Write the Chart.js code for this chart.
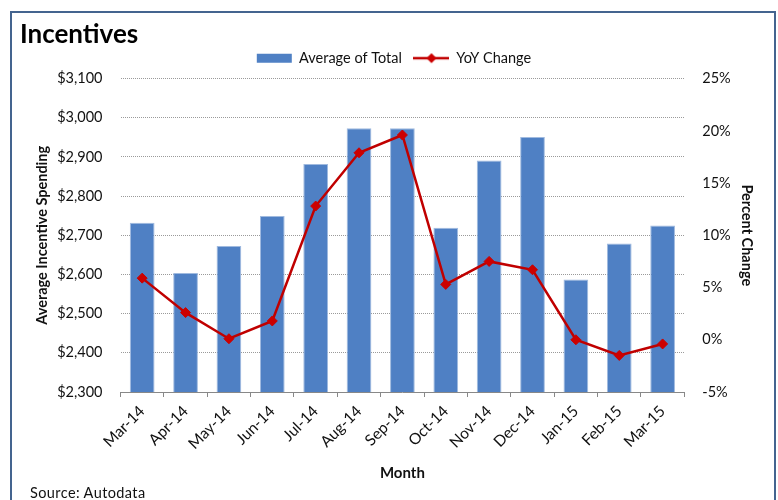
<!DOCTYPE html>
<html><head><meta charset="utf-8">
<script src="https://cdn.jsdelivr.net/npm/chart.js@4"></script>
<style>
html,body{margin:0;padding:0;background:#fff;}
#wrap{position:relative;width:778px;height:500px;overflow:hidden;background:#fff;}
#frame{position:absolute;left:10px;top:11px;width:766px;height:520px;border:2px solid #44648F;box-sizing:border-box;}
#c{position:absolute;left:0;top:0;}
#src{position:absolute;left:30px;top:484px;font:14.5px Lato;letter-spacing:.4px;color:#111;}
</style></head><body>
<div id="wrap"><div id="frame"></div><canvas id="c" width="778" height="500"></canvas><div id="src">Source: Autodata</div></div>
<script>
const months = ['Mar-14','Apr-14','May-14','Jun-14','Jul-14','Aug-14','Sep-14','Oct-14','Nov-14','Dec-14','Jan-15','Feb-15','Mar-15'];
const avgTotal = [2732, 2604, 2673, 2749, 2882, 2973, 2973, 2719, 2891, 2951, 2587, 2679, 2725];
const yoyChange = [5.9, 2.6, 0.1, 1.8, 12.8, 17.9, 19.6, 5.3, 7.5, 6.7, 0.0, -1.5, -0.4];
const spendTicks = [2300, 3100, 100];   // min, max, step
const pctTicks = [-5, 25, 5];           // min, max, step

const FONT = 'Lato';
const TXT = '#111';

const legendLineIcon = (() => {
  const c = document.createElement('canvas'); c.width = 36; c.height = 12;
  const x = c.getContext('2d');
  x.strokeStyle = '#C00000'; x.lineWidth = 2.5;
  x.beginPath(); x.moveTo(0, 6); x.lineTo(36, 6); x.stroke();
  x.fillStyle = '#CC0000';
  x.beginPath(); x.moveTo(18, 1); x.lineTo(23, 6); x.lineTo(18, 11); x.lineTo(13, 6); x.closePath(); x.fill();
  return c;
})();

// small gap between the legend and the plot area
const legendGap = {
  id: 'legendGap',
  beforeInit(chart) {
    Chart.layouts.addBox(chart, {
      position: 'top', weight: 0, fullSize: true, options: {},
      top: 0, left: 0, right: 0, bottom: 0, width: 0, height: 0,
      update(maxWidth) { this.width = maxWidth; this.height = 3.2; },
      isHorizontal() { return true; },
      draw() {}
    });
  }
};

new Chart(document.getElementById('c'), {
  data: {
    labels: months,
    datasets: [
      { type: 'bar', label: 'Average of Total', data: avgTotal, yAxisID: 'y',
        backgroundColor: '#4F80C4', borderColor: 'rgba(150,178,220,0.9)', borderWidth: 1,
        barPercentage: 0.57, categoryPercentage: 1, order: 1 },
      { type: 'line', label: 'YoY Change', data: yoyChange, yAxisID: 'y1',
        borderColor: '#C00000', borderWidth: 2.5, tension: 0,
        pointStyle: 'rectRot', pointRadius: 5, pointBackgroundColor: '#CC0000', pointBorderColor: '#CC0000', pointBorderWidth: 1, order: 0 }
    ]
  },
  plugins: [legendGap],
  options: {
    responsive: false, animation: false,
    layout: { padding: { left: 20, right: 10, top: 0, bottom: 18 } },
    plugins: {
      tooltip: { enabled: false },
      title: { display: true, text: 'Incentives', align: 'start', color: '#000',
        font: { family: FONT, size: 26, weight: 'bold', lineHeight: 0.3 }, padding: { top: 31.1, bottom: 0 } },
      legend: { position: 'top',
        labels: { usePointStyle: true, pointStyleWidth: 35, boxHeight: 9, padding: 12, color: TXT,
          font: { family: FONT, size: 14.5 },
          sort: (a, b) => a.datasetIndex - b.datasetIndex,
          generateLabels(chart) {
            const items = Chart.defaults.plugins.legend.labels.generateLabels(chart);
            items.forEach(it => {
              if (it.datasetIndex === 1) { it.pointStyle = legendLineIcon; }
              else { it.pointStyle = 'rect'; it.lineWidth = 0; it.strokeStyle = 'rgba(0,0,0,0)'; }
            });
            return items;
          } } }
    },
    scales: {
      x: { offset: true,
        grid: { offset: true, drawOnChartArea: false, drawTicks: true, tickLength: 5, color: '#888' },
        border: { display: true, color: '#888', width: 1 },
        ticks: { minRotation: 45, maxRotation: 45, autoSkip: false, padding: 5, color: TXT, font: { family: FONT, size: 15.5 } },
        title: { display: true, text: 'Month', color: TXT, font: { family: FONT, size: 15, weight: 'bold' }, padding: { top: 0, bottom: 0 } },
        afterFit(s) { s.height = 90; } },
      y: { position: 'left', min: spendTicks[0], max: spendTicks[1],
        ticks: { stepSize: spendTicks[2], padding: 18, color: TXT, font: { family: FONT, size: 14.5 },
          callback: v => '$' + Number(v).toLocaleString('en-US') },
        grid: { color: '#9a9a9a', lineWidth: 1, drawTicks: false },
        border: { display: false, dash: [1, 1] },
        title: { display: true, text: 'Average Incentive Spending', color: TXT,
          font: { family: FONT, size: 14.5, weight: 'bold' }, padding: { top: 13.6, bottom: 0 } },
        afterFit(s) { s.width = 100.5; } },
      y1: { position: 'right', min: pctTicks[0], max: pctTicks[1],
        ticks: { stepSize: pctTicks[2], padding: 18, color: TXT, font: { family: FONT, size: 14.5 },
          callback: v => v + '%' },
        grid: { drawOnChartArea: false, drawTicks: false },
        border: { display: false },
        title: { display: true, text: 'Percent Change', color: TXT,
          font: { family: FONT, size: 14.5, weight: 'bold' }, padding: { top: 12.6, bottom: 0 } },
        afterFit(s) { s.width = 83.7; } }
    }
  }
});
</script>
</body></html>
